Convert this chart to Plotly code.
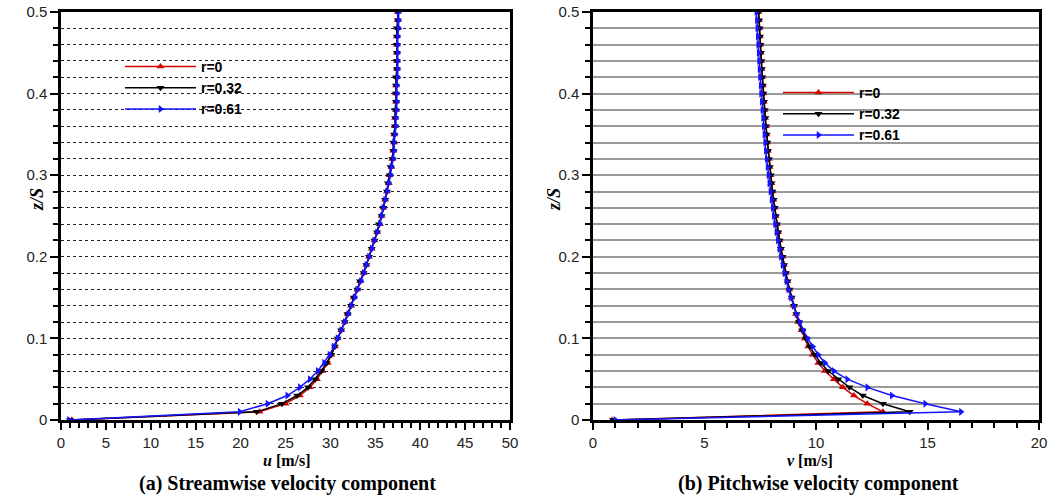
import plotly.graph_objects as go

# ---------------- data ----------------
z = [0.00, 0.01, 0.02, 0.03, 0.04, 0.05, 0.06, 0.07, 0.08, 0.09,
     0.10, 0.11, 0.12, 0.13, 0.14, 0.15, 0.16, 0.17, 0.18, 0.19,
     0.20, 0.21, 0.22, 0.23, 0.24, 0.25, 0.26, 0.27, 0.28, 0.29,
     0.30, 0.31, 0.32, 0.33, 0.34, 0.35, 0.36, 0.37, 0.38, 0.39,
     0.40, 0.41, 0.42, 0.43, 0.44, 0.45, 0.46, 0.47, 0.48, 0.49, 0.50]

u_r0 = [1.2, 22.1, 25.0, 26.6, 27.7, 28.5, 29.1, 29.7, 30.1, 30.5,
        30.8, 31.2, 31.6, 31.9, 32.3, 32.6, 33.0, 33.3, 33.7, 34.0,
        34.3, 34.6, 34.9, 35.2, 35.5, 35.7, 35.9, 36.1, 36.3, 36.5,
        36.6, 36.8, 36.9, 37.0, 37.1, 37.1, 37.2, 37.2, 37.3, 37.3,
        37.3, 37.3, 37.4, 37.4, 37.4, 37.4, 37.4, 37.4, 37.5, 37.5, 37.5]
u_r032 = [1.0, 21.8, 24.6, 26.3, 27.5, 28.3, 29.0, 29.6, 30.1, 30.5,
          30.8, 31.2, 31.6, 31.9, 32.3, 32.6, 33.0, 33.3, 33.7, 34.0,
          34.3, 34.6, 34.9, 35.2, 35.4, 35.7, 35.9, 36.1, 36.3, 36.4,
          36.6, 36.7, 36.9, 37.0, 37.0, 37.1, 37.2, 37.2, 37.2, 37.3,
          37.3, 37.3, 37.3, 37.4, 37.4, 37.4, 37.4, 37.4, 37.4, 37.5, 37.5]
u_r061 = [0.9, 19.9, 23.0, 25.2, 26.6, 27.7, 28.6, 29.3, 29.9, 30.4,
          30.8, 31.2, 31.6, 32.0, 32.3, 32.7, 33.0, 33.4, 33.7, 34.0,
          34.3, 34.6, 34.9, 35.2, 35.5, 35.7, 35.9, 36.1, 36.3, 36.5,
          36.7, 36.8, 37.0, 37.1, 37.1, 37.2, 37.3, 37.3, 37.4, 37.4,
          37.4, 37.4, 37.5, 37.5, 37.5, 37.5, 37.5, 37.5, 37.6, 37.6, 37.6]

v_r0 = [0.85, 13.0, 12.3, 11.7, 11.2, 10.8, 10.4, 10.1, 9.85, 9.65,
        9.50, 9.35, 9.20, 9.10, 9.00, 8.90, 8.80, 8.72, 8.64, 8.56,
        8.49, 8.42, 8.36, 8.30, 8.24, 8.19, 8.14, 8.09, 8.04, 8.00,
        7.96, 7.92, 7.88, 7.84, 7.81, 7.78, 7.75, 7.72, 7.69, 7.66,
        7.63, 7.61, 7.58, 7.56, 7.54, 7.52, 7.50, 7.48, 7.46, 7.44, 7.42]
v_r032 = [0.90, 14.2, 13.0, 12.1, 11.5, 11.0, 10.55, 10.2, 9.95, 9.72,
          9.55, 9.38, 9.23, 9.12, 9.01, 8.91, 8.81, 8.73, 8.65, 8.57,
          8.50, 8.43, 8.37, 8.31, 8.25, 8.20, 8.15, 8.10, 8.05, 8.01,
          7.97, 7.93, 7.89, 7.85, 7.82, 7.79, 7.76, 7.73, 7.70, 7.67,
          7.64, 7.62, 7.59, 7.57, 7.55, 7.53, 7.51, 7.49, 7.47, 7.45, 7.43]
v_r061 = [1.00, 16.5, 14.9, 13.4, 12.3, 11.4, 10.8, 10.4, 10.1, 9.85,
          9.62, 9.43, 9.27, 9.13, 9.00, 8.88, 8.77, 8.68, 8.59, 8.51,
          8.43, 8.36, 8.29, 8.23, 8.17, 8.11, 8.06, 8.01, 7.96, 7.91,
          7.87, 7.83, 7.79, 7.75, 7.72, 7.69, 7.66, 7.63, 7.60, 7.57,
          7.54, 7.52, 7.49, 7.47, 7.45, 7.43, 7.41, 7.39, 7.37, 7.35, 7.33]

series_names = ["r=0", "r=0.32", "r=0.61"]
colors = ["#d40000", "#000000", "#1414ff"]
symbols = ["triangle-up", "triangle-down", "triangle-right"]

fig = go.Figure()

for name, vals, col, sym in zip(series_names, [u_r0, u_r032, u_r061], colors, symbols):
    fig.add_trace(go.Scatter(
        x=vals, y=z, mode="lines+markers", name=name,
        line=dict(color=col, width=1.5),
        marker=dict(symbol=sym, size=7, color=col),
        xaxis="x", yaxis="y", legend="legend"))

for name, vals, col, sym in zip(series_names, [v_r0, v_r032, v_r061], colors, symbols):
    fig.add_trace(go.Scatter(
        x=vals, y=z, mode="lines+markers", name=name,
        line=dict(color=col, width=1.5),
        marker=dict(symbol=sym, size=7, color=col),
        xaxis="x2", yaxis="y2", legend="legend2"))

W, H = 1051, 497
tickfont = dict(family="Liberation Sans, Arial", size=15, color="#222")
serif = "Liberation Serif, Times New Roman"

def xax(domain, rng, dtick, anchor):
    return dict(domain=domain, range=rng, dtick=dtick, tick0=0, anchor=anchor,
                automargin=False,
                showline=True, linecolor="black", linewidth=2.5, mirror=True,
                ticks="outside", ticklen=7, tickwidth=2, tickcolor="black",
                minor=dict(dtick=1, ticks="outside", ticklen=5, tickwidth=1.5,
                           tickcolor="black", showgrid=False),
                showgrid=False, zeroline=False, tickfont=tickfont)

def yax(domain, anchor, griddash, gridcolor, gridwidth):
    return dict(domain=domain, range=[0, 0.5], dtick=0.1, tick0=0, anchor=anchor,
                automargin=False,
                showline=True, linecolor="black", linewidth=2.5, mirror=True,
                ticks="outside", ticklen=8, tickwidth=2, tickcolor="black",
                minor=dict(dtick=0.02, ticks="outside", ticklen=5, tickwidth=1.5,
                           tickcolor="black", showgrid=True, griddash=griddash,
                           gridcolor=gridcolor, gridwidth=gridwidth),
                showgrid=True, griddash=griddash, gridcolor=gridcolor, gridwidth=gridwidth,
                zeroline=False, tickfont=tickfont, tickformat="~g")

ydom = [(H - 420) / H, (H - 12) / H]
legfont = dict(family="Liberation Sans, Arial", size=14, color="black", weight="bold")
fig.update_layout(
    width=W, height=H,
    margin=dict(l=0, r=0, t=0, b=0, autoexpand=False),
    paper_bgcolor="white", plot_bgcolor="white",
    xaxis=xax([61 / W, 510 / W], [0, 50], 5, "y"),
    yaxis=yax(ydom, "x", "dot", "#222", 1),
    xaxis2=xax([593 / W, 1039 / W], [0, 20], 5, "y2"),
    yaxis2=yax(ydom, "x2", "solid", "#9a9a9a", 1.5),
    showlegend=True,
    legend=dict(x=120 / W, y=(H - 51) / H, xanchor="left", yanchor="top",
                bgcolor="rgba(0,0,0,0)", itemwidth=71, tracegroupgap=0, font=legfont),
    legend2=dict(x=778 / W, y=(H - 77) / H, xanchor="left", yanchor="top",
                 bgcolor="rgba(0,0,0,0)", itemwidth=71, tracegroupgap=0, font=legfont),
)

def ann(text, x, y, size, angle=0):
    fig.add_annotation(text=text, x=x / W, y=(H - y) / H, textangle=angle,
                       xref="paper", yref="paper", xanchor="center", yanchor="middle",
                       showarrow=False, borderpad=0,
                       font=dict(family=serif, size=size, color="black"))

# axis titles
ann("<b><i>u</i> [m/s]</b>", 287, 460, 16)
ann("<b><i>v</i> [m/s]</b>", 810, 460, 16)
ann("<b><i>z/S</i></b>", 37, 200, 18, -90)
ann("<b><i>z/S</i></b>", 554, 200, 18, -90)
# captions
ann("<b>(a) Streamwise velocity component</b>", 287, 483, 20)
ann("<b>(b) Pitchwise velocity component</b>", 818, 483, 20)

fig.write_html("out.html")
